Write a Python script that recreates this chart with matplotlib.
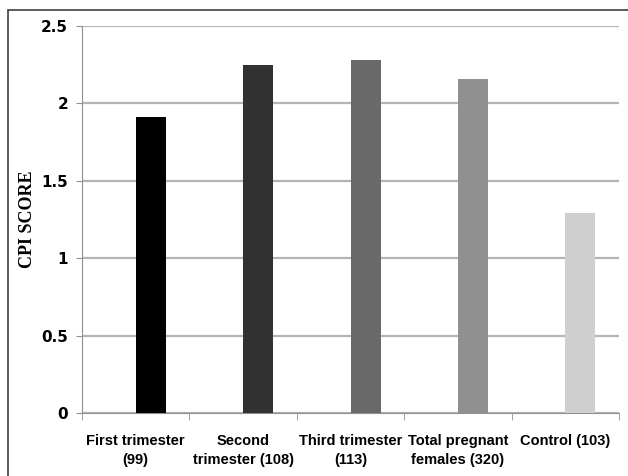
import matplotlib.pyplot as plt
from matplotlib.patches import Rectangle

groups = ["First trimester\n(99)", "Second\ntrimester (108)", "Third trimester\n(113)",
          "Total pregnant\nfemales (320)", "Control (103)"]
cpi = [1.91, 2.25, 2.28, 2.16, 1.29]
colors = ["#000000", "#313131", "#696969", "#909090", "#cfcfcf"]
yticks = [0, 0.5, 1, 1.5, 2, 2.5]
ylabels = ["0", "0.5", "1", "1.5", "2", "2.5"]

fig = plt.figure(figsize=(6.28, 4.76), dpi=100)
ax = fig.add_axes([82 / 628, 63 / 476, 537 / 628, 387 / 476])

# outer frame, cut off at right and bottom like the original
fig.patches.append(Rectangle((8 / 628, -0.05), 1.2, 466 / 476 + 0.05,
                             transform=fig.transFigure, fill=False,
                             edgecolor="#404040", linewidth=1.2))

x = list(range(len(groups)))
ax.bar(x, cpi, width=0.28, align="edge", color=colors, zorder=3)

ax.set_xlim(-0.5, len(groups) - 0.5)
ax.set_ylim(0, 2.5)
ax.set_yticks(yticks)
ax.set_yticklabels(ylabels, fontsize=11, fontweight="bold", family="DejaVu Sans")
ax.yaxis.grid(True, color="#b4b4b4", linewidth=1.6, zorder=0)
ax.tick_params(axis="y", length=4, color="#909090", pad=6)

ax.set_xticks(x)
ax.set_xticklabels(groups, fontsize=10.5, fontweight="bold",
                   family=["Liberation Sans Narrow", "Liberation Sans"], linespacing=1.45)
ax.set_xticks([i - 0.5 for i in range(len(groups) + 1)], minor=True)
ax.tick_params(axis="x", which="major", length=0, pad=15)
ax.tick_params(axis="x", which="minor", length=5, color="#909090")

for s in ["top", "right"]:
    ax.spines[s].set_visible(False)
ax.spines["left"].set_color("#909090")
ax.spines["bottom"].set_color("#909090")

ax.set_ylabel("CPI SCORE", fontsize=13, fontweight="bold", family="Liberation Serif", labelpad=4)

fig.savefig("out.png", dpi=100)
